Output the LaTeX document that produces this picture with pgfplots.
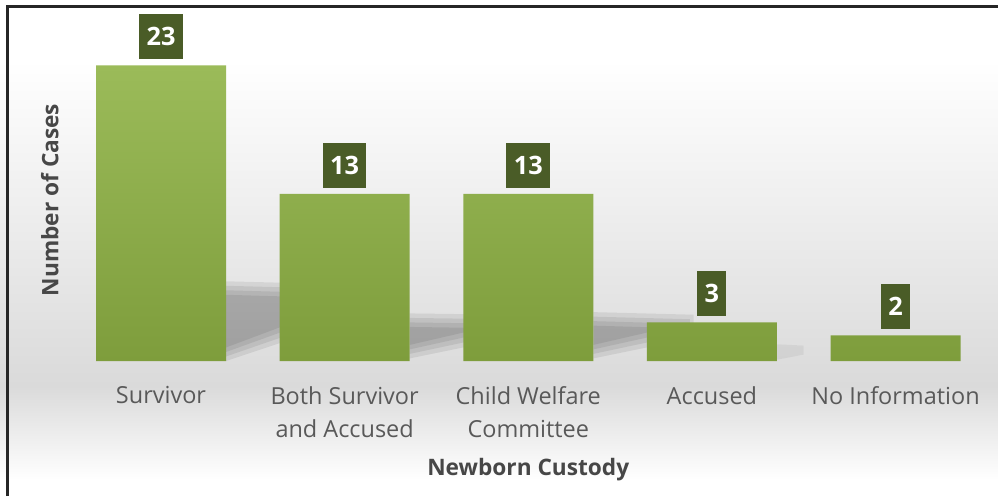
\documentclass[border=0pt]{standalone}
\usepackage{pgfplots}
\pgfplotsset{compat=1.18}
\usepackage{fontspec}
\setmainfont{Open Sans}
\definecolor{bartop}{HTML}{9BBB59}
\definecolor{barbot}{HTML}{7E9D3C}
\definecolor{boxgreen}{HTML}{4A5C27}
\definecolor{bggray}{HTML}{DADADA}
\definecolor{ticktext}{HTML}{595959}
\definecolor{labeltext}{HTML}{474747}
\tikzset{shd/.style={black, opacity=0.075}}
\begin{document}
\begin{tikzpicture}
% background
\fill[white] (0,0) rectangle (748.5pt,372pt);
\shade[top color=white, bottom color=bggray] (0,82.5pt) rectangle (748.5pt,327pt);
\shade[top color=bggray, bottom color=white] (0,12pt) rectangle (748.5pt,82.5pt);
\begin{axis}[
  at={(51.9pt,101.25pt)}, anchor=south west,
  scale only axis,
  width=688.6pt, height=263.25pt,
  xmin=-0.5, xmax=4.5, ymin=0, ymax=27.3,
  axis line style={draw=none},
  major tick length=0pt,
  ytick=\empty,
  xtick={0,1,2,3,4},
  xticklabels={Survivor,{Both Survivor\\and Accused},{Child Welfare\\Committee},Accused,No Information},
  xticklabel style={align=center, text=ticktext, font=\fontsize{17.6}{24.75}\selectfont, yshift=-15.5pt},
  xlabel={Newborn Custody},
  ylabel={Number of Cases},
  xlabel style={at={(rel axis cs:0.5,-0.31)}, anchor=center, font=\bfseries\fontsize{17}{20}\selectfont, text=labeltext},
  ylabel style={at={(rel axis cs:-0.021,0.459)}, anchor=center, font=\bfseries\fontsize{17}{20}\selectfont, text=labeltext},
  /pgf/number format/assume math mode=true,
  clip=false,
]
% soft shadows behind bars (layered for a blurred look)
\fill[shd] (axis cs:0.354,0) -- (axis cs:0.354,6.2) -- (axis cs:0.9,6.0) -- (axis cs:0.9,2.6) -- cycle;
\fill[shd] (axis cs:0.354,0.35) -- (axis cs:0.354,5.85) -- (axis cs:0.88,5.65) -- (axis cs:0.88,2.95) -- cycle;
\fill[shd] (axis cs:0.354,0.7) -- (axis cs:0.354,5.5) -- (axis cs:0.86,5.3) -- (axis cs:0.86,3.3) -- cycle;
\fill[shd] (axis cs:0.354,1.05) -- (axis cs:0.354,5.15) -- (axis cs:0.84,4.95) -- (axis cs:0.84,3.65) -- cycle;
\fill[shd] (axis cs:1.354,0.2) -- (axis cs:1.354,3.7) -- (axis cs:1.9,3.6) -- (axis cs:1.9,1.8) -- cycle;
\fill[shd] (axis cs:1.354,0.55) -- (axis cs:1.354,3.35) -- (axis cs:1.88,3.25) -- (axis cs:1.88,2.15) -- cycle;
\fill[shd] (axis cs:1.354,0.9) -- (axis cs:1.354,3.0) -- (axis cs:1.86,2.9) -- (axis cs:1.86,2.5) -- cycle;
\fill[shd] (axis cs:1.354,1.25) -- (axis cs:1.354,2.65) -- (axis cs:1.84,2.55) -- (axis cs:1.84,2.85) -- cycle;
\fill[shd] (axis cs:2.354,0.2) -- (axis cs:2.354,3.8) -- (axis cs:2.9,3.6) -- (axis cs:2.9,1.8) -- cycle;
\fill[shd] (axis cs:2.354,0.55) -- (axis cs:2.354,3.45) -- (axis cs:2.88,3.25) -- (axis cs:2.88,2.15) -- cycle;
\fill[shd] (axis cs:2.354,0.9) -- (axis cs:2.354,3.1) -- (axis cs:2.86,2.9) -- (axis cs:2.86,2.5) -- cycle;
\fill[shd] (axis cs:2.354,1.25) -- (axis cs:2.354,2.75) -- (axis cs:2.84,2.55) -- (axis cs:2.84,2.85) -- cycle;
\fill[black, opacity=0.05] (axis cs:3.354,0.1) -- (axis cs:3.354,1.3) -- (axis cs:3.5,1.2) -- (axis cs:3.5,0.5) -- cycle;
\addplot[ybar, bar width=97.5pt, draw=none, top color=bartop, bottom color=barbot,
  nodes near coords,
  every node near coord/.append style={fill=boxgreen, text=white, anchor=south,
    font=\bfseries\fontsize{19}{20}\selectfont, minimum height=33.5pt, inner xsep=5.5pt, yshift=4.5pt}]
  coordinates {(0,23) (1,13) (2,13) (3,3) (4,2)};
\end{axis}
% frame (left and top only)
\draw[line width=2.25pt, color=black!85] (5.25pt,0) -- (5.25pt,367.1pt) -- (748.5pt,367.1pt);
\pgfresetboundingbox
\useasboundingbox (0,0) rectangle (748.5pt,372pt);
\end{tikzpicture}
\end{document}
